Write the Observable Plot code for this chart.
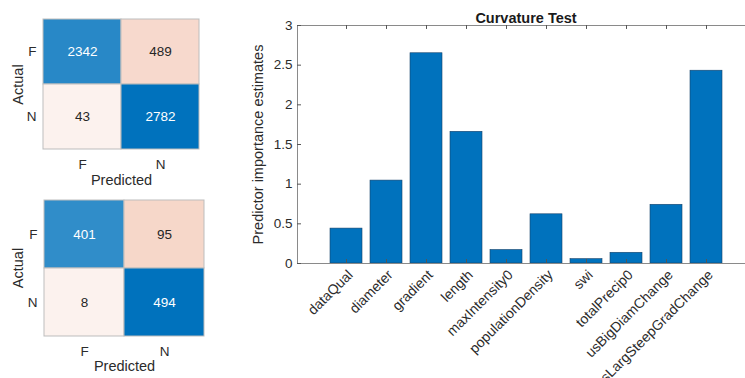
<!DOCTYPE html>
<html>
<head>
<meta charset="utf-8">
<script src="https://cdn.jsdelivr.net/npm/d3@7"></script>
<script src="https://cdn.jsdelivr.net/npm/@observablehq/plot@0.6"></script>
<style>
  html, body { margin: 0; padding: 0; background: #fff; overflow: hidden; }
  #page { position: relative; width: 745px; height: 378px; overflow: hidden; font-family: "Liberation Sans", Arial, sans-serif; }
  .panel { position: absolute; }
  .panel svg { max-width: none !important; height: auto; display: block; }
</style>
</head>
<body>
<div id="page">
  <div class="panel" id="cm1" style="left:0;top:0;width:220px;"></div>
  <div class="panel" id="cm2" style="left:0;top:190px;width:220px;"></div>
  <div class="panel" id="bars" style="left:230px;top:0;width:530px;"></div>
</div>
<script>
// ---- data ----
const classes = ["F", "N"];
const cmTop = [[2342, 489], [43, 2782]];      // rows: Actual, cols: Predicted
const cmBottom = [[401, 95], [8, 494]];
const predictors = ["dataQual", "diameter", "gradient", "length", "maxIntensity0",
  "populationDensity", "swi", "totalPrecip0", "usBigDiamChange", "usLargSteepGradChange"];
const importance = [0.44, 1.045, 2.65, 1.66, 0.17, 0.62, 0.055, 0.135, 0.74, 2.43];
const yTicks = [0, 0.5, 1, 1.5, 2, 2.5, 3];
const chartTitle = "Curvature Test";
const yLabel = "Predictor importance estimates";

const FONT = '"Liberation Sans", Arial, sans-serif';
const TEXT = "#2b2b2b";

function cmTable(m) {
  const max = d3.max(m.flat());
  const rows = [];
  classes.forEach((a, i) => classes.forEach((p, j) => {
    const v = m[i][j];
    const diag = i === j;
    const color = diag
      ? d3.interpolateRgb("#ffffff", "#0072BD")(v / max)
      : d3.interpolateRgb("#ffffff", "#D95319")(0.06 + 0.9 * v / max);
    rows.push({actual: a, predicted: p, value: v, diag, color});
  }));
  return rows;
}

function confusion(m, box) {
  const data = cmTable(m);
  return Plot.plot({
    width: box.w, height: box.h,
    marginLeft: box.ml, marginRight: box.mr, marginTop: box.mt, marginBottom: box.mb,
    x: {domain: classes, padding: 0, axis: null},
    y: {domain: classes, padding: 0, axis: null},
    color: {type: "identity"},
    style: {fontFamily: FONT, fontSize: "13px", color: TEXT, background: "transparent", overflow: "visible"},
    marks: [
      Plot.cell(data, {x: "predicted", y: "actual", fill: "color", stroke: "#bdbdbd", strokeWidth: 1}),
      Plot.text(data, {x: "predicted", y: "actual", text: d => String(d.value),
        fill: d => d.diag ? "#ffffff" : "#262626", fontSize: 13.5}),
      Plot.axisX({anchor: "bottom", tickSize: 0, tickPadding: 10, label: null, fontSize: 13.5, fill: TEXT}),
      Plot.axisY({anchor: "left", tickSize: 0, tickPadding: 7, label: null, fontSize: 13.5, fill: TEXT}),
      Plot.text(["Predicted"], {text: d => d, frameAnchor: "bottom", lineAnchor: "middle", textAnchor: "middle",
        dy: box.xl, fontSize: 14.5, fill: TEXT}),
      Plot.text(["Actual"], {text: d => d, frameAnchor: "left", lineAnchor: "middle", textAnchor: "middle",
        dx: box.yl, rotate: -90, fontSize: 14.5, fill: TEXT})
    ]
  });
}

document.getElementById("cm1").append(confusion(cmTop,
  {w: 220, h: 190, ml: 43, mr: 21, mt: 19, mb: 41, xl: 31, yl: -25.5}));
document.getElementById("cm2").append(confusion(cmBottom,
  {w: 220, h: 188, ml: 44, mr: 16, mt: 9, mb: 42, xl: 30, yl: -26.5}));

// ---- bar chart ----
const barData = predictors.map((name, i) => ({name, value: importance[i]}));
const W = 530, ML = 67, MR = 6, MT = 25, MB = 115;
const plotW = W - ML - MR;
const bars = Plot.plot({
  width: W, height: 378,
  marginLeft: ML, marginRight: MR, marginTop: MT, marginBottom: MB,
  x: {domain: predictors, paddingInner: 0.2, paddingOuter: 0.8125, align: 0.5, axis: null},
  y: {domain: [0, 3], axis: null},
  style: {fontFamily: FONT, fontSize: "13px", color: TEXT, background: "transparent", overflow: "visible"},
  marks: [
    Plot.barY(barData, {x: "name", y: "value", fill: "#0072BD", stroke: "#16426a", strokeWidth: 0.6}),
    Plot.frame({stroke: "#8a8a8a", strokeWidth: 1}),
    Plot.ruleX(predictors, {x: d => d, y1: 0, y2: 0.05, stroke: "#555", strokeWidth: 1}),
    Plot.ruleX(predictors, {x: d => d, y1: 3, y2: 2.95, stroke: "#555", strokeWidth: 1}),
    Plot.ruleY(yTicks, {y: d => d, insetRight: plotW - 4, stroke: "#555", strokeWidth: 1}),
    Plot.axisY({ticks: yTicks, tickFormat: d => String(d), tickSize: 0, tickPadding: 5, label: null, fontSize: 13.5, fill: TEXT}),
    Plot.axisX({tickRotate: -45, tickSize: 0, tickPadding: 9, dx: 4, label: null, fontSize: 14, fill: TEXT}),
    Plot.text([chartTitle], {text: d => d, frameAnchor: "top", lineAnchor: "middle", textAnchor: "middle",
      dy: -7, fontWeight: "bold", fontSize: 14.5, fill: "#1a1a1a"}),
    Plot.text([yLabel], {text: d => d, frameAnchor: "left", lineAnchor: "middle", textAnchor: "middle",
      dx: -39, rotate: -90, fontSize: 14.5, fill: TEXT})
  ]
});
document.getElementById("bars").append(bars);
</script>
</body>
</html>
